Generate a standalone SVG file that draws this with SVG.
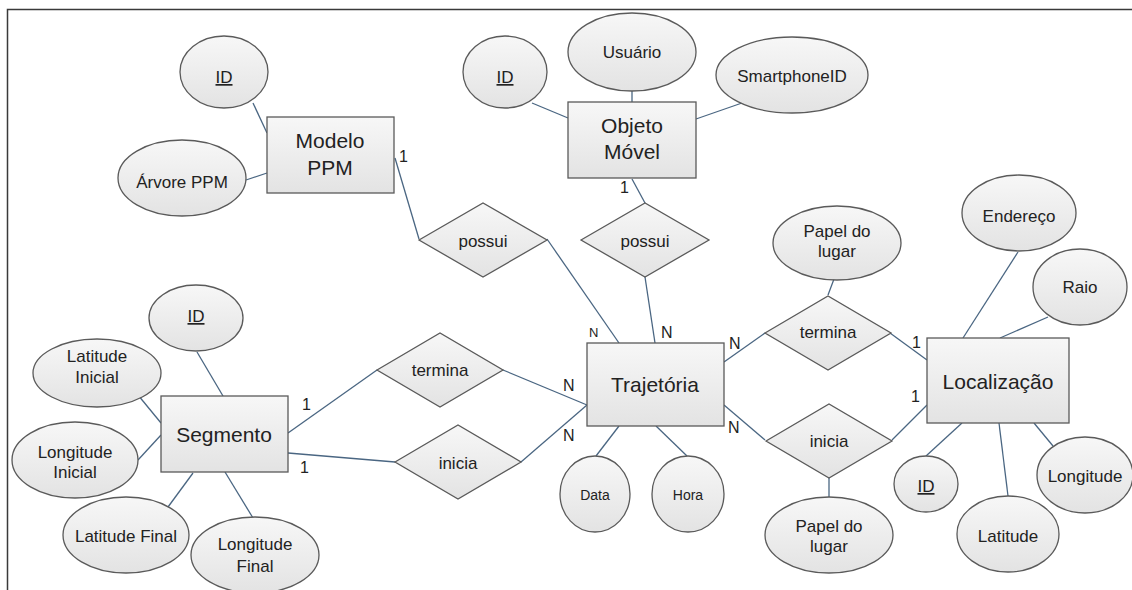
<svg xmlns="http://www.w3.org/2000/svg" width="1132" height="590" viewBox="0 0 1132 590">
<defs>
<linearGradient id="g" x1="0" y1="0" x2="0" y2="1">
<stop offset="0" stop-color="#f7f7f7"/>
<stop offset="1" stop-color="#e3e3e3"/>
</linearGradient>
<style>
.s{fill:url(#g);stroke:#5a5a5a;stroke-width:1.3}
.c{stroke:#4a6682;stroke-width:1.3;fill:none}
text{font-family:"Liberation Sans",Arial,sans-serif;fill:#222;text-anchor:middle}
.e{font-size:21px}
.a{font-size:17px}
.r{font-size:17px}
.sm{font-size:14px}
.l{font-size:16px;text-anchor:start}
.u{text-decoration:underline}
</style>
</defs>
<rect width="1132" height="590" fill="#fff"/>
<path d="M7.5 590V9.5H1132" fill="none" stroke="#3a3a3a" stroke-width="1.5"/>
<g id="connectors">
<line class="c" x1="253" y1="103" x2="267" y2="133"/>
<line class="c" x1="246" y1="180" x2="267" y2="173"/>
<line class="c" x1="532" y1="103" x2="568" y2="118"/>
<line class="c" x1="632" y1="91" x2="632" y2="102"/>
<line class="c" x1="696" y1="119" x2="742" y2="103"/>
<line class="c" x1="632" y1="179" x2="645" y2="203"/>
<line class="c" x1="395" y1="158" x2="419" y2="239"/>
<line class="c" x1="547" y1="239" x2="619" y2="343"/>
<line class="c" x1="645" y1="277" x2="655" y2="343"/>
<line class="c" x1="288" y1="433" x2="377" y2="370"/>
<line class="c" x1="288" y1="453" x2="395" y2="462"/>
<line class="c" x1="503" y1="370" x2="587" y2="405"/>
<line class="c" x1="521" y1="462" x2="587" y2="405"/>
<line class="c" x1="619" y1="426" x2="596" y2="456"/>
<line class="c" x1="656" y1="426" x2="687" y2="456"/>
<line class="c" x1="724" y1="362" x2="765" y2="333"/>
<line class="c" x1="724" y1="405" x2="765" y2="440"/>
<line class="c" x1="890" y1="333" x2="927" y2="360"/>
<line class="c" x1="892" y1="440" x2="927" y2="405"/>
<line class="c" x1="834" y1="279" x2="828" y2="295"/>
<line class="c" x1="829" y1="477" x2="829" y2="497"/>
<line class="c" x1="1018" y1="252" x2="963" y2="338"/>
<line class="c" x1="1048" y1="317" x2="1000" y2="338"/>
<line class="c" x1="962" y1="423" x2="926" y2="456"/>
<line class="c" x1="999" y1="423" x2="1008" y2="496"/>
<line class="c" x1="1034" y1="423" x2="1053" y2="446"/>
<line class="c" x1="197" y1="352" x2="223" y2="396"/>
<line class="c" x1="138" y1="395" x2="161" y2="423"/>
<line class="c" x1="138" y1="460" x2="161" y2="435"/>
<line class="c" x1="168" y1="507" x2="193" y2="473"/>
<line class="c" x1="253" y1="518" x2="225" y2="472"/>
<text class="l" x="399" y="162">1</text>
<text class="l" x="620" y="193">1</text>
<text class="l" x="589" y="337" style="font-size:13px">N</text>
<text class="l" x="661" y="338">N</text>
<text class="l" x="563" y="391">N</text>
<text class="l" x="563" y="441">N</text>
<text class="l" x="729" y="349">N</text>
<text class="l" x="728" y="433">N</text>
<text class="l" x="302" y="410">1</text>
<text class="l" x="300" y="473">1</text>
<text class="l" x="912" y="348">1</text>
<text class="l" x="911" y="402">1</text>
</g>
<g id="modelo-ppm"><rect class="s" x="267" y="117" width="127" height="76"/><text class="e" x="330" y="148">Modelo</text><text class="e" x="330" y="175">PPM</text></g>
<g id="modelo-id"><ellipse class="s" cx="224" cy="72" rx="44" ry="36"/><text class="a u" x="224" y="83">ID</text></g>
<g id="arvore-ppm"><ellipse class="s" cx="182" cy="178" rx="64" ry="38"/><text class="a" x="182" y="188">Árvore PPM</text></g>
<g id="objeto-movel"><rect class="s" x="568" y="102" width="128" height="76"/><text class="e" x="632" y="133">Objeto</text><text class="e" x="632" y="159">Móvel</text></g>
<g id="objeto-id"><ellipse class="s" cx="505" cy="72" rx="42" ry="36"/><text class="a u" x="505" y="83">ID</text></g>
<g id="usuario"><ellipse class="s" cx="632" cy="52" rx="64" ry="39"/><text class="a" x="632" y="58">Usuário</text></g>
<g id="smartphoneid"><ellipse class="s" cx="792" cy="75" rx="76" ry="38"/><text class="a" x="792" y="82">SmartphoneID</text></g>
<g id="possui1"><polygon class="s" points="419,240 483,203 547,240 483,277"/><text class="r" x="483" y="247">possui</text></g>
<g id="possui2"><polygon class="s" points="581,240 645,203 709,240 645,277"/><text class="r" x="645" y="247">possui</text></g>
<g id="segmento"><rect class="s" x="161" y="396" width="127" height="76"/><text class="e" x="224" y="442">Segmento</text></g>
<g id="segmento-id"><ellipse class="s" cx="196" cy="318" rx="47" ry="33"/><text class="a u" x="196" y="322">ID</text></g>
<g id="latitude-inicial"><ellipse class="s" cx="97" cy="373" rx="64" ry="34"/><text class="a" x="97" y="362">Latitude</text><text class="a" x="97" y="383">Inicial</text></g>
<g id="longitude-inicial"><ellipse class="s" cx="75" cy="460" rx="63" ry="38"/><text class="a" x="75" y="458">Longitude</text><text class="a" x="75" y="478">Inicial</text></g>
<g id="latitude-final"><ellipse class="s" cx="126" cy="535" rx="63" ry="38"/><text class="a" x="126" y="542">Latitude Final</text></g>
<g id="longitude-final"><ellipse class="s" cx="255" cy="555" rx="64" ry="38"/><text class="a" x="255" y="550">Longitude</text><text class="a" x="255" y="572">Final</text></g>
<g id="termina1"><polygon class="s" points="377,370 440,333 503,370 440,407"/><text class="r" x="440" y="376">termina</text></g>
<g id="inicia1"><polygon class="s" points="395,462 458,425 521,462 458,499"/><text class="r" x="458" y="469">inicia</text></g>
<g id="trajetoria"><rect class="s" x="587" y="343" width="137" height="83"/><text class="e" x="655" y="392">Trajetória</text></g>
<g id="data"><ellipse class="s" cx="595" cy="494" rx="35" ry="38"/><text class="sm" x="595" y="500">Data</text></g>
<g id="hora"><ellipse class="s" cx="688" cy="494" rx="36" ry="38"/><text class="sm" x="688" y="500">Hora</text></g>
<g id="termina2"><polygon class="s" points="765,333 828,296 891,333 828,370"/><text class="r" x="828" y="338">termina</text></g>
<g id="inicia2"><polygon class="s" points="766,441 829,404 892,441 829,478"/><text class="r" x="829" y="447">inicia</text></g>
<g id="papel-termina"><ellipse class="s" cx="837" cy="243" rx="64" ry="37"/><text class="a" x="837" y="237">Papel do</text><text class="a" x="837" y="257">lugar</text></g>
<g id="papel-inicia"><ellipse class="s" cx="829" cy="535" rx="64" ry="38"/><text class="a" x="829" y="532">Papel do</text><text class="a" x="829" y="552">lugar</text></g>
<g id="localizacao"><rect class="s" x="927" y="338" width="142" height="85"/><text class="e" x="998" y="389">Localização</text></g>
<g id="endereco"><ellipse class="s" cx="1019" cy="213" rx="57" ry="38"/><text class="a" x="1019" y="222">Endereço</text></g>
<g id="raio"><ellipse class="s" cx="1080" cy="287" rx="47" ry="38"/><text class="a" x="1080" y="293">Raio</text></g>
<g id="localizacao-id"><ellipse class="s" cx="926" cy="484" rx="32" ry="28"/><text class="a u" x="926" y="492">ID</text></g>
<g id="latitude"><ellipse class="s" cx="1008" cy="534" rx="51" ry="38"/><text class="a" x="1008" y="542">Latitude</text></g>
<g id="longitude"><ellipse class="s" cx="1085" cy="475" rx="48" ry="38"/><text class="a" x="1085" y="482">Longitude</text></g>
</svg>
